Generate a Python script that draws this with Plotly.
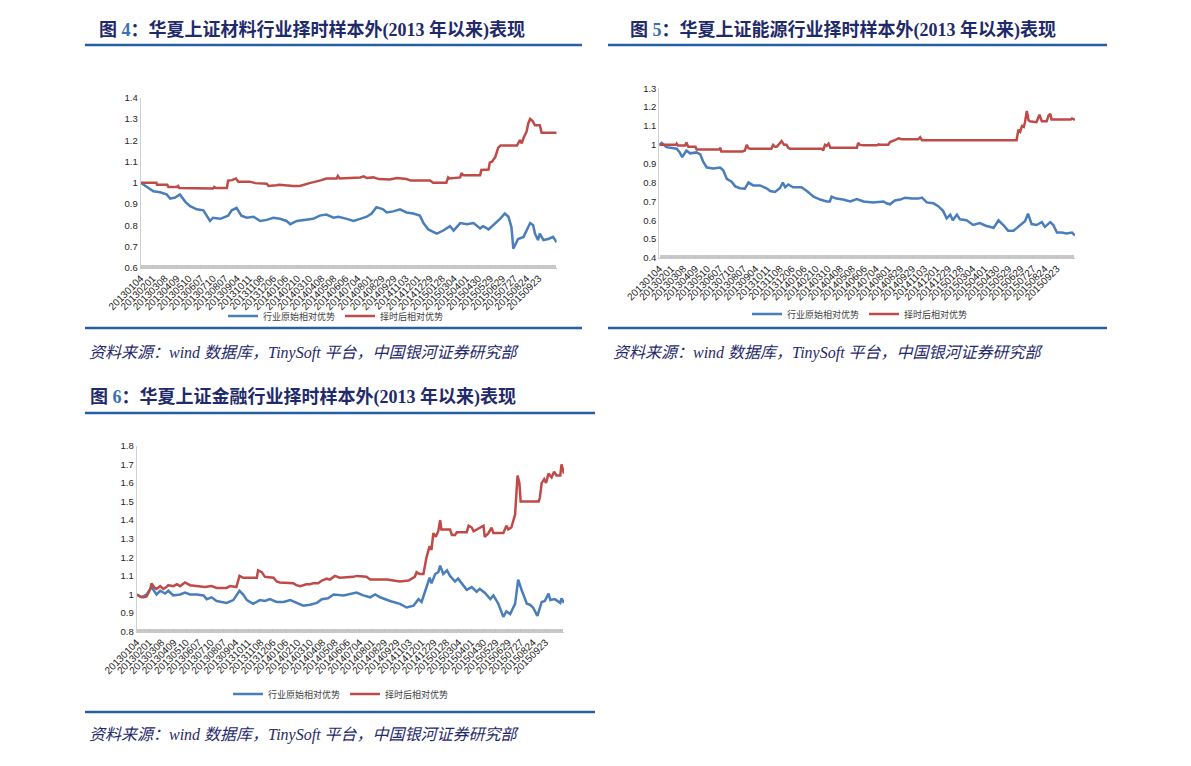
import plotly.graph_objects as go

W, H = 1191, 766

# ---------------- data ----------------
tick_labels = ["20130104", "20130201", "20130308", "20130409", "20130510", "20130607",
               "20130710", "20130807", "20130904", "20131011", "20131108", "20131206",
               "20140106", "20140210", "20140310", "20140408", "20140508", "20140606",
               "20140704", "20140801", "20140829", "20140929", "20141103", "20141201",
               "20141229", "20150128", "20150304", "20150401", "20150430", "20150529",
               "20150629", "20150727", "20150824", "20150923"]
label_step = 20          # trading days between two date labels
last_day = 690           # last trading-day index shown

series_names = ["行业原始相对优势", "择时后相对优势"]

# Figure 4: materials
p1_blue_day = [0, 10, 21, 32, 43, 49, 57, 65, 74, 82, 93, 104, 115, 120, 132, 145, 151, 159, 167,
               176, 187, 198, 209, 220, 231, 242, 248, 259, 275, 286, 297, 308, 320, 328, 342, 353,
               364, 375, 383, 391, 402, 408, 419, 430, 441, 452, 463, 469, 477, 485, 491, 502, 513,
               519, 530, 541, 552, 563, 568, 577, 585, 596, 604, 610, 615, 618, 626, 635, 646, 651,
               654, 659, 662, 668, 676, 684, 690]
p1_blue_val = [1.0, 0.98, 0.96, 0.955, 0.945, 0.925, 0.93, 0.945, 0.91, 0.89, 0.875, 0.87, 0.82,
               0.835, 0.83, 0.845, 0.87, 0.882, 0.845, 0.835, 0.84, 0.82, 0.825, 0.835, 0.83, 0.82,
               0.805, 0.82, 0.825, 0.83, 0.845, 0.85, 0.835, 0.84, 0.83, 0.82, 0.83, 0.84, 0.855,
               0.885, 0.875, 0.86, 0.865, 0.875, 0.86, 0.855, 0.845, 0.81, 0.78, 0.77, 0.76, 0.775,
               0.795, 0.775, 0.81, 0.805, 0.81, 0.785, 0.795, 0.78, 0.8, 0.83, 0.855, 0.84, 0.79,
               0.69, 0.735, 0.745, 0.81, 0.8, 0.76, 0.73, 0.76, 0.73, 0.735, 0.745, 0.72]
p1_red_day = [0, 26, 27, 44, 46, 60, 62, 64, 120, 122, 125, 143, 145, 152, 158, 162, 181, 190, 209,
              212, 225, 230, 253, 264, 280, 292, 300, 308, 325, 327, 330, 364, 370, 375, 386, 395,
              413, 425, 441, 448, 480, 485, 507, 510, 512, 530, 532, 535, 563, 565, 577, 579, 583,
              588, 593, 597, 624, 627, 629, 632, 635, 640, 643, 646, 650, 654, 662, 665, 690]
p1_red_val = [1.0, 1.0, 0.99, 0.99, 0.98, 0.98, 0.985, 0.975, 0.973, 0.98, 0.975, 0.975, 1.01,
              1.012, 1.02, 1.005, 1.005, 0.998, 0.995, 0.985, 0.988, 0.99, 0.985, 0.985, 0.998,
              1.005, 1.012, 1.02, 1.02, 1.032, 1.02, 1.025, 1.03, 1.022, 1.025, 1.017, 1.015,
              1.022, 1.017, 1.01, 1.01, 1.0, 1.0, 1.025, 1.02, 1.025, 1.045, 1.035, 1.035, 1.06,
              1.062, 1.095, 1.1, 1.12, 1.165, 1.175, 1.175, 1.19, 1.2, 1.185, 1.21, 1.24, 1.28,
              1.3, 1.29, 1.27, 1.27, 1.235, 1.235]

# Figure 5: energy
p2_blue_day = [0, 4, 12, 29, 34, 38, 45, 51, 62, 68, 73, 79, 90, 101, 106, 112, 120, 126, 134,
               142, 148, 156, 167, 178, 184, 192, 200, 205, 209, 214, 222, 236, 245, 256, 267, 278,
               283, 286, 294, 305, 317, 322, 328, 339, 355, 372, 377, 383, 391, 400, 408, 419, 430,
               436, 444, 455, 463, 471, 477, 483, 487, 494, 499, 510, 521, 532, 543, 555, 563, 571,
               579, 588, 596, 602, 607, 612, 618, 626, 635, 640, 649, 654, 660, 668, 676, 685, 690]
p2_blue_val = [1.0, 1.01, 0.988, 0.98, 0.96, 0.935, 0.97, 0.955, 0.96, 0.95, 0.91, 0.88, 0.875,
               0.88, 0.865, 0.82, 0.805, 0.78, 0.77, 0.768, 0.8, 0.785, 0.785, 0.77, 0.755, 0.75,
               0.77, 0.8, 0.775, 0.79, 0.775, 0.775, 0.755, 0.725, 0.71, 0.7, 0.7, 0.725, 0.715,
               0.71, 0.7, 0.705, 0.712, 0.7, 0.695, 0.7, 0.69, 0.685, 0.705, 0.71, 0.72, 0.715,
               0.715, 0.72, 0.695, 0.69, 0.675, 0.65, 0.61, 0.63, 0.6, 0.63, 0.605, 0.6, 0.575,
               0.585, 0.57, 0.56, 0.6, 0.575, 0.545, 0.545, 0.565, 0.58, 0.595, 0.635, 0.58, 0.575,
               0.59, 0.565, 0.59, 0.575, 0.535, 0.535, 0.53, 0.535, 0.52]
p2_red_day = [0, 28, 29, 31, 43, 45, 48, 60, 62, 100, 101, 103, 138, 142, 145, 148, 151, 186, 189,
              192, 195, 203, 207, 211, 214, 217, 270, 272, 275, 278, 281, 284, 328, 330, 333, 339,
              361, 364, 366, 380, 383, 388, 393, 397, 402, 430, 433, 436, 593, 596, 599, 602, 605,
              607, 610, 613, 615, 626, 631, 635, 643, 646, 649, 651, 683, 685, 690]
p2_red_val = [1.0, 1.0, 1.006, 0.997, 0.997, 1.012, 0.99, 0.99, 0.975, 0.975, 0.985, 0.965, 0.965,
              0.97, 1.0, 0.982, 0.98, 0.98, 1.0, 0.99, 0.99, 1.02, 1.0, 1.0, 0.985, 0.98, 0.98,
              0.97, 1.0, 0.995, 1.007, 0.985, 0.985, 1.01, 1.0, 0.998, 0.998, 1.003, 1.0, 1.0,
              1.015, 1.02, 1.028, 1.035, 1.03, 1.03, 1.04, 1.025, 1.025, 1.08, 1.07, 1.1, 1.095,
              1.12, 1.18, 1.13, 1.125, 1.12, 1.16, 1.125, 1.125, 1.155, 1.165, 1.135, 1.135, 1.14,
              1.133]

# Figure 6: finance
p3_blue_day = [0, 8, 16, 24, 32, 38, 46, 51, 59, 70, 78, 86, 97, 108, 113, 121, 129, 137, 145, 156,
               166, 172, 178, 188, 199, 207, 215, 226, 237, 248, 258, 269, 280, 291, 299, 309, 318,
               334, 355, 366, 377, 385, 393, 409, 425, 436, 447, 455, 460, 466, 473, 476, 482, 487,
               490, 495, 501, 506, 514, 519, 527, 533, 541, 549, 554, 562, 571, 576, 584, 592, 597,
               603, 611, 616, 622, 630, 635, 640, 647, 654, 659, 665, 668, 675, 684, 686, 690]
p3_blue_val = [1.0, 0.985, 1.0, 1.04, 1.0, 1.02, 1.005, 1.02, 0.995, 1.0, 1.01, 1.0, 1.0, 0.995,
               0.975, 0.985, 0.965, 0.96, 0.955, 0.97, 1.02, 1.0, 0.97, 0.95, 0.97, 0.965, 0.975,
               0.96, 0.96, 0.97, 0.955, 0.94, 0.945, 0.955, 0.975, 0.98, 1.0, 0.995, 1.01, 0.995,
               0.985, 1.0, 0.985, 0.965, 0.95, 0.93, 0.94, 0.975, 0.96, 1.02, 1.09, 1.06, 1.11,
               1.12, 1.155, 1.11, 1.13, 1.1, 1.07, 1.085, 1.05, 1.025, 1.04, 1.015, 1.03, 1.01,
               0.975, 0.995, 0.95, 0.88, 0.91, 0.895, 0.95, 1.08, 1.02, 0.95, 0.945, 0.93, 0.885,
               0.96, 0.965, 1.005, 0.97, 0.975, 0.955, 0.98, 0.955]
p3_red_day = [0, 5, 11, 16, 22, 24, 28, 32, 38, 43, 48, 51, 59, 65, 70, 75, 78, 86, 97, 110, 121,
              129, 145, 151, 161, 166, 172, 194, 196, 202, 207, 221, 226, 231, 253, 258, 264, 269,
              274, 280, 285, 293, 299, 307, 312, 320, 328, 350, 355, 371, 377, 404, 414, 425, 439,
              444, 449, 452, 457, 463, 468, 473, 476, 479, 483, 487, 490, 492, 506, 509, 514, 517,
              533, 536, 541, 544, 554, 560, 562, 568, 573, 576, 592, 597, 600, 605, 611, 615, 618,
              620, 649, 651, 654, 658, 661, 665, 670, 674, 678, 684, 686, 690]
p3_red_val = [1.0, 0.99, 0.985, 0.99, 1.03, 1.06, 1.04, 1.03, 1.045, 1.03, 1.04, 1.05, 1.045,
              1.055, 1.045, 1.06, 1.065, 1.05, 1.045, 1.04, 1.045, 1.035, 1.035, 1.045, 1.04, 1.1,
              1.09, 1.09, 1.13, 1.12, 1.095, 1.09, 1.07, 1.065, 1.06, 1.05, 1.045, 1.05, 1.055,
              1.055, 1.06, 1.06, 1.075, 1.085, 1.08, 1.1, 1.09, 1.095, 1.1, 1.095, 1.08, 1.08,
              1.075, 1.07, 1.075, 1.085, 1.095, 1.12, 1.11, 1.11, 1.2, 1.26, 1.24, 1.33, 1.31,
              1.34, 1.4, 1.35, 1.35, 1.32, 1.32, 1.335, 1.335, 1.37, 1.36, 1.34, 1.36, 1.37, 1.31,
              1.33, 1.36, 1.33, 1.33, 1.37, 1.35, 1.36, 1.43, 1.64, 1.6, 1.5, 1.5, 1.52, 1.6,
              1.62, 1.6, 1.65, 1.63, 1.66, 1.64, 1.64, 1.7, 1.65]

p1_yticks = [0.6, 0.7, 0.8, 0.9, 1.0, 1.1, 1.2, 1.3, 1.4]
p2_yticks = [0.4, 0.5, 0.6, 0.7, 0.8, 0.9, 1.0, 1.1, 1.2, 1.3]
p3_yticks = [0.8, 0.9, 1.0, 1.1, 1.2, 1.3, 1.4, 1.5, 1.6, 1.7, 1.8]

titles = ["图 <span style='color:#3A6FB5'>4</span>：华夏上证材料行业择时样本外(2013 年以来)表现",
          "图 <span style='color:#3A6FB5'>5</span>：华夏上证能源行业择时样本外(2013 年以来)表现",
          "图 <span style='color:#3A6FB5'>6</span>：华夏上证金融行业择时样本外(2013 年以来)表现"]
source_text = "资料来源：wind 数据库，TinySoft 平台，中国银河证券研究部"

# ---------------- style ----------------
BLUE = "#4A7EBB"
RED = "#BE4B48"
NAVY = "#1F2A6B"
RULE = "#2660A4"
LAT = "Liberation Sans, Noto Sans CJK SC, sans-serif"
TITLE_FONT = "Liberation Serif, Noto Sans CJK SC, serif"


def fx(px):
    return px / W


def fy(py):
    return 1 - py / H


panels = [
    dict(x0=140.7, x1=556.7, y0=97.7, y1=267.7, yticks=p1_yticks,
         blue=(p1_blue_day, p1_blue_val), red=(p1_red_day, p1_red_val),
         leg_x=336, leg_y=316),
    dict(x0=659.3, x1=1075.0, y0=88.3, y1=258.0, yticks=p2_yticks,
         blue=(p2_blue_day, p2_blue_val), red=(p2_red_day, p2_red_val),
         leg_x=860, leg_y=314),
    dict(x0=136.7, x1=564.0, y0=445.7, y1=631.7, yticks=p3_yticks,
         blue=(p3_blue_day, p3_blue_val), red=(p3_red_day, p3_red_val),
         leg_x=341, leg_y=694),
]

fig = go.Figure()
layout = dict(template="none", width=W, height=H, autosize=False,
              margin=dict(l=0, r=0, t=0, b=0, pad=0),
              paper_bgcolor="white", plot_bgcolor="white",
              showlegend=True)

tickvals = [i * label_step for i in range(len(tick_labels))]

for i, p in enumerate(panels):
    sfx = "" if i == 0 else str(i + 1)
    xa, ya = "x" + sfx, "y" + sfx
    leg = "legend" + sfx
    for (d, v), name, col in ((p["blue"], series_names[0], BLUE), (p["red"], series_names[1], RED)):
        fig.add_trace(go.Scatter(x=d, y=v, mode="lines", name=name,
                                 line=dict(color=col, width=2.5),
                                 xaxis=xa, yaxis=ya, legend=leg, hoverinfo="skip"))
    layout["xaxis" + sfx] = dict(
        domain=[fx(p["x0"]), fx(p["x1"])], anchor=ya, automargin=False,
        range=[0, last_day], tickvals=tickvals, ticktext=tick_labels,
        tickangle=-45, tickfont=dict(size=10, color="#262626", family=LAT),
        showline=True, linecolor="#c8c8c8", linewidth=1,
        ticks="inside", ticklen=3, tickcolor="#c0c0c0",
        minor=dict(ticks="inside", ticklen=3, dtick=1, tick0=0, tickcolor="#c8c8c8", showgrid=False),
        showgrid=False, zeroline=False, fixedrange=True)
    yt = p["yticks"]
    layout["yaxis" + sfx] = dict(
        domain=[fy(p["y1"]), fy(p["y0"])], anchor=xa, automargin=False,
        range=[yt[0], yt[-1]], tickvals=yt, ticktext=[f"{t:g}" for t in yt],
        tickfont=dict(size=9.5, color="#262626", family=LAT),
        showline=True, linecolor="#d0d0d0", linewidth=1, ticks="",
        showgrid=False, zeroline=False, fixedrange=True)
    layout[leg] = dict(orientation="h", x=fx(p["leg_x"]), xanchor="center",
                       y=fy(p["leg_y"]), yanchor="middle",
                       font=dict(size=9, color="#404040", family=LAT),
                       bgcolor="rgba(0,0,0,0)", itemwidth=30, tracegroupgap=0,
                       itemclick=False, itemdoubleclick=False)

# decorative rules, titles and source notes
rules = [(85, 582, 45), (85, 582, 328), (608, 1107, 45), (608, 1107, 328), (85, 595, 413), (85, 595, 712)]
shapes = [dict(type="line", xref="paper", yref="paper", x0=fx(a), x1=fx(b), y0=fy(yy), y1=fy(yy),
               line=dict(color=RULE, width=2.5)) for a, b, yy in rules]

title_pos = [(97, 30), (628, 30), (88, 397)]
source_pos = [(87, 353), (611, 353), (87, 735)]
annotations = []
for t, (tx, ty) in zip(titles, title_pos):
    annotations.append(dict(xref="paper", yref="paper", x=fx(tx), y=fy(ty), xanchor="left",
                            yanchor="middle", showarrow=False, text="<b>" + t + "</b>",
                            font=dict(size=18, color=NAVY, family=TITLE_FONT)))
for sx, sy in source_pos:
    annotations.append(dict(xref="paper", yref="paper", x=fx(sx), y=fy(sy), xanchor="left",
                            yanchor="middle", showarrow=False, text="<i>" + source_text + "</i>",
                            font=dict(size=16, color=NAVY, family=TITLE_FONT)))

layout["shapes"] = shapes
layout["annotations"] = annotations
fig.update_layout(**layout)

fig.write_html("out.html", config={"displayModeBar": False, "staticPlot": True},
               post_script="document.body.style.margin='0px';")
